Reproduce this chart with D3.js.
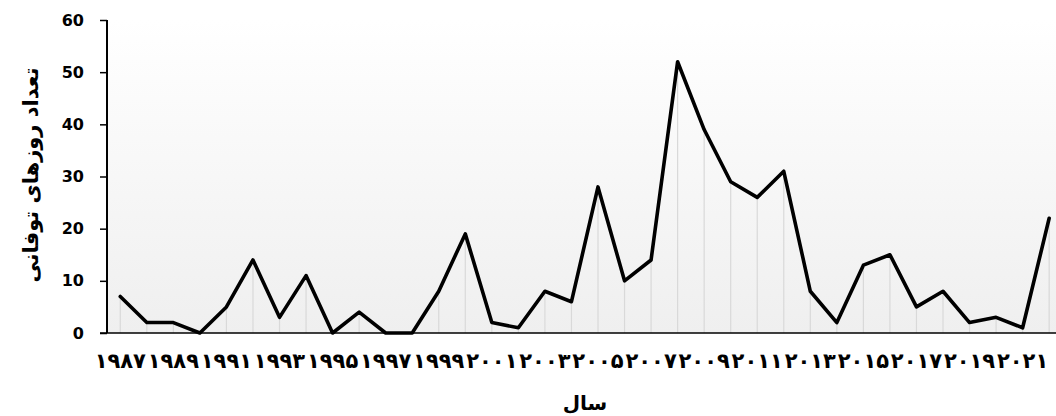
<!DOCTYPE html>
<html>
<head>
<meta charset="utf-8">
<script src="https://cdn.jsdelivr.net/npm/d3@7"></script>
<style>
  html, body { margin: 0; padding: 0; background: #fff; }
  svg { display: block; }
</style>
</head>
<body>
<script>
// ---- data ----
const years = [1987,1988,1989,1990,1991,1992,1993,1994,1995,1996,1997,1998,1999,2000,2001,2002,2003,2004,2005,2006,2007,2008,2009,2010,2011,2012,2013,2014,2015,2016,2017,2018,2019,2020,2021,2022];
const stormDays = [7,2,2,0,5,14,3,11,0,4,0,0,8,19,2,1,8,6,28,10,14,52,39,29,26,31,8,2,13,15,5,8,2,3,1,22];
const yTicks = [0,10,20,30,40,50,60];
const yTitle = "تعداد روزهای توفانی";
const xTitle = "سال";

const W = 1056, H = 416;
const mLeft = 107, mTop = 20, mBottom = 333;
const step = 26.54;
const mRight = mLeft + years.length * step;

const toPersian = s => String(s).replace(/[0-9]/g, d => "۰۱۲۳۴۵۶۷۸۹"[+d]);

const svg = d3.select("body").append("svg").attr("width", W).attr("height", H);

const x = d3.scaleBand().domain(years).range([mLeft, mRight]).paddingInner(0).paddingOuter(0);
const y = d3.scaleLinear().domain([0, 60]).range([mBottom, mTop]);
const cx = d => x(d) + x.bandwidth() / 2;

// background gradient
const defs = svg.append("defs");
const grad = defs.append("linearGradient").attr("id", "bg").attr("x1", 0).attr("y1", 0).attr("x2", 0).attr("y2", 1);
grad.append("stop").attr("offset", "0%").attr("stop-color", "#ffffff");
grad.append("stop").attr("offset", "100%").attr("stop-color", "#efefef");
svg.append("rect").attr("x", mLeft).attr("y", mTop).attr("width", W - mLeft).attr("height", mBottom - mTop).attr("fill", "url(#bg)");

// drop lines
svg.append("g").selectAll("line").data(years).join("line")
  .attr("x1", (d) => cx(d)).attr("x2", (d) => cx(d))
  .attr("y1", (d, i) => y(stormDays[i])).attr("y2", mBottom)
  .attr("stroke", "#d9d9d9").attr("stroke-width", 1.2);

// line
const line = d3.line().x((d, i) => cx(years[i])).y(d => y(d));
svg.append("path").datum(stormDays).attr("d", line)
  .attr("fill", "none").attr("stroke", "#000").attr("stroke-width", 3.6)
  .attr("stroke-linejoin", "round").attr("stroke-linecap", "round");

// y axis
const yAxis = svg.append("g").attr("transform", `translate(${mLeft},0)`)
  .call(d3.axisLeft(y).tickValues(yTicks).tickSize(7).tickSizeOuter(0).tickPadding(16));
yAxis.select(".domain").attr("stroke", "#000").attr("stroke-width", 2).attr("d", `M0,${mTop}V${mBottom}`);
yAxis.selectAll(".tick line").attr("stroke", "#000").attr("stroke-width", 1.5);
yAxis.selectAll(".tick text").attr("font-family", "DejaVu Sans").attr("font-weight", "bold")
  .attr("font-size", 16).attr("fill", "#000");

// x axis
const labelYears = years.filter(d => d % 2 === 1);
const xAxis = svg.append("g").attr("transform", `translate(0,${mBottom})`)
  .call(d3.axisBottom(x).tickValues(labelYears).tickSize(0).tickPadding(20).tickFormat(toPersian));
xAxis.select(".domain").attr("stroke", "#000").attr("stroke-width", 1.5).attr("d", `M${mLeft - 7},0H${W}`);
xAxis.selectAll(".tick text").attr("font-family", "DejaVu Sans").attr("font-weight", "bold")
  .attr("font-size", 21).attr("letter-spacing", "3.2px").attr("fill", "#000").attr("dy", "0.71em");

// titles
svg.append("text").attr("transform", `translate(38,175) rotate(-90)`)
  .attr("text-anchor", "middle").attr("font-family", "DejaVu Sans").attr("font-weight", "bold")
  .attr("font-size", 21).attr("fill", "#000").text(yTitle);
svg.append("text").attr("x", 585).attr("y", 410)
  .attr("text-anchor", "middle").attr("font-family", "DejaVu Sans").attr("font-weight", "bold")
  .attr("font-size", 20).attr("fill", "#000").text(xTitle);
</script>
</body>
</html>
